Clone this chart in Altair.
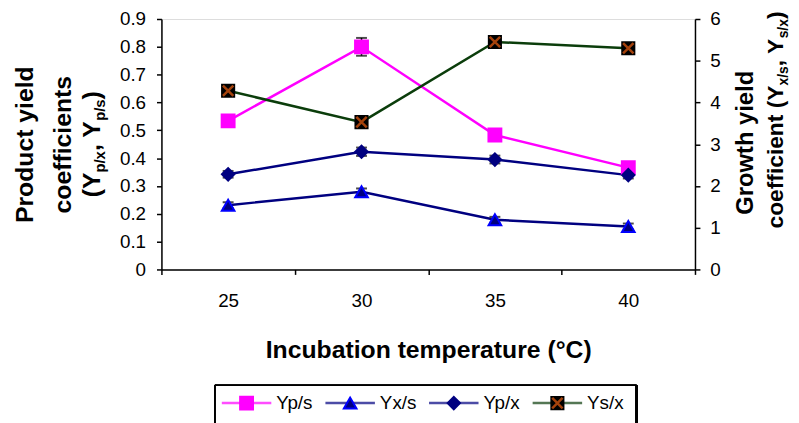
import altair as alt
import pandas as pd

# ---------------- data ----------------
temps = ["25", "30", "35", "40"]
series = ["Yp/s", "Yx/s", "Yp/x", "Ys/x"]

yps = [0.534, 0.800, 0.483, 0.366]
ypx = [0.342, 0.423, 0.395, 0.339]
yxs = [1.54, 1.86, 1.19, 1.03]
ysx = [4.28, 3.53, 5.45, 5.30]

yps_err = [0.006, 0.032, 0.008, 0.008]
ypx_err = [0.012, 0.015, 0.014, 0.012]
yxs_err = [0.07, 0.08, 0.07, 0.07]
ysx_err = [0.06, 0.06, 0.06, 0.06]

left_ticks = [0, 0.1, 0.2, 0.3, 0.4, 0.5, 0.6, 0.7, 0.8, 0.9]
right_ticks = [0, 1, 2, 3, 4, 5, 6]

# title pieces: (text, is_subscript)
left_title_lines = ["Product yield", "coefficients"]
left_title_sub = [("(Y", False), ("p/x", True), (", Y", False), ("p/s", True), (")", False)]
right_title_line = "Growth yield"
right_title_sub = [("coefficient (Y", False), ("x/s", True), (", Y", False), ("s/x", True), (")", False)]

line_colors = ["#FF00FF", "#000080", "#000080", "#0B3D0B"]
marker_shapes = ["square", "triangle-up", "diamond", "square"]
marker_fills = ["#FF00FF", "#000080", "#000080", "#000000"]
marker_strokes = ["#FF00FF", "#0000FF", "#000080", "#000000"]
marker_sizes = [170, 150, 120, 170]
X_PATH = "M-1,-1L1,1M1,-1L-1,1"
X_COLOR = "#A4420C"
FONT = "Liberation Sans"
LABEL_FS = 19
TITLE_FS = 25

# Arial Bold advance widths (1/1000 em)
AB = {
    "(": 333, ")": 333, "Y": 667, "p": 611, "/": 278, "x": 556, "s": 556, ",": 278,
    " ": 278, "c": 556, "o": 611, "e": 556, "f": 333, "i": 278, "n": 611, "t": 333,
}


def tw(s, fs):
    return sum(AB.get(ch, 556) for ch in s) / 1000.0 * fs


def rows(name, vals, errs):
    return [
        {"temp": t, "series": name, "value": v, "lo": v - e, "hi": v + e}
        for t, v, e in zip(temps, vals, errs)
    ]


df_left = pd.DataFrame(rows("Yp/s", yps, yps_err) + rows("Yp/x", ypx, ypx_err))
df_right = pd.DataFrame(rows("Yx/s", yxs, yxs_err) + rows("Ys/x", ysx, ysx_err))
df_leg = pd.DataFrame({"series": series})

# ---------------- scales ----------------
color_scale = alt.Scale(domain=series, range=line_colors)
shape_scale = alt.Scale(domain=series, range=marker_shapes)
fill_scale = alt.Scale(domain=series, range=marker_fills)
stroke_scale = alt.Scale(domain=series, range=marker_strokes)
size_scale = alt.Scale(domain=series, range=marker_sizes)

axis_common = dict(
    grid=False,
    domainColor="black",
    domainWidth=1.5,
    tickColor="black",
    tickWidth=1.5,
    tickSize=5,
    labelFontSize=LABEL_FS,
    labelColor="black",
    labelFont=FONT,
)

x_axis = alt.Axis(
    title="Incubation temperature (°C)",
    labelAngle=0,
    tickBand="extent",
    labelPadding=17,
    titleFontSize=TITLE_FS,
    titleFontWeight="bold",
    titleColor="black",
    titleFont=FONT,
    titleBaseline="middle",
    titleY=81,
    **axis_common,
)
x_enc = alt.X(
    "temp:O",
    scale=alt.Scale(type="band", domain=temps, paddingInner=0, paddingOuter=0),
    axis=x_axis,
)

left_axis = alt.Axis(orient="left", title=None, values=left_ticks, format="~g", labelPadding=11, **axis_common)
right_axis = alt.Axis(orient="right", title=None, values=right_ticks, format="~g", labelPadding=10, **axis_common)


def group(df, yscale, yaxis, with_x):
    base = alt.Chart(df)
    y = alt.Y("value:Q", scale=yscale, axis=yaxis)
    color = alt.Color("series:N", scale=color_scale, legend=None)
    lines = base.mark_line(strokeWidth=2.5).encode(
        x=x_enc, y=y, color=color, detail="series:N"
    )
    err = base.mark_rule(color="black", strokeWidth=1.5).encode(
        x=x_enc, y=alt.Y("lo:Q", scale=yscale, axis=yaxis), y2="hi:Q"
    )
    cap_lo = base.mark_tick(color="black", thickness=2, size=11, orient="horizontal").encode(
        x=x_enc, y=alt.Y("lo:Q", scale=yscale, axis=yaxis)
    )
    cap_hi = base.mark_tick(color="black", thickness=2, size=11, orient="horizontal").encode(
        x=x_enc, y=alt.Y("hi:Q", scale=yscale, axis=yaxis)
    )
    pts = base.mark_point(filled=True, opacity=1, strokeWidth=2, strokeOpacity=1).encode(
        x=x_enc,
        y=y,
        shape=alt.Shape("series:N", scale=shape_scale, legend=None),
        fill=alt.Fill("series:N", scale=fill_scale, legend=None),
        stroke=alt.Stroke("series:N", scale=stroke_scale, legend=None),
        size=alt.Size("series:N", scale=size_scale, legend=None),
    )
    layers = [lines, err, cap_lo, cap_hi, pts]
    if with_x:
        xm = base.transform_filter(alt.datum.series == "Ys/x").mark_point(
            shape=X_PATH, filled=False, stroke=X_COLOR, strokeWidth=2.5, size=110, opacity=1
        ).encode(x=x_enc, y=y)
        layers.append(xm)
    return alt.layer(*layers)


left = group(df_left, alt.Scale(domain=[0, 0.9], nice=False, zero=True), left_axis, False)
right = group(df_right, alt.Scale(domain=[0, 6], nice=False, zero=True), right_axis, True)
main = alt.layer(left, right).resolve_scale(y="independent")

# ---------------- legend (drawn) ----------------
LEG_Y = 388
leg_x = alt.X(
    "series:N",
    scale=alt.Scale(type="point", domain=series, range=[86, 400], padding=0),
    axis=None,
)
leg = alt.Chart(df_leg)
leg_lines = leg.mark_tick(orient="horizontal", size=50, thickness=2.5).encode(
    x=leg_x, y=alt.value(LEG_Y), color=alt.Color("series:N", scale=color_scale, legend=None)
)
leg_pts = leg.mark_point(filled=True, opacity=1, strokeWidth=2).encode(
    x=leg_x,
    y=alt.value(LEG_Y),
    shape=alt.Shape("series:N", scale=shape_scale, legend=None),
    fill=alt.Fill("series:N", scale=fill_scale, legend=None),
    stroke=alt.Stroke("series:N", scale=stroke_scale, legend=None),
    size=alt.Size("series:N", scale=size_scale, legend=None),
)
leg_xm = leg.transform_filter(alt.datum.series == "Ys/x").mark_point(
    shape=X_PATH, filled=False, stroke=X_COLOR, strokeWidth=2.5, size=110, opacity=1
).encode(x=leg_x, y=alt.value(LEG_Y))
leg_text = leg.mark_text(align="left", baseline="middle", dx=30, fontSize=LABEL_FS, font=FONT, color="black").encode(
    x=leg_x, y=alt.value(LEG_Y), text="series:N"
)
box_left = leg.mark_rule(color="black", strokeWidth=1.5).encode(
    x=alt.value(54), y=alt.value(370), y2=alt.value(440)
)
box_top = leg.mark_rule(color="black", strokeWidth=1.5).encode(
    x=alt.value(54), x2=alt.value(480), y=alt.value(370)
)
box_right = leg.mark_rule(color="black", strokeWidth=2.5).encode(
    x=alt.value(480), y=alt.value(370), y2=alt.value(440)
)

# ---------------- rotated axis titles with subscripts ----------------
one = alt.Data(values=[{"k": 0}])


def rtext(text, x, y, fs, align="center"):
    return alt.Chart(one).mark_text(
        text=text, angle=270, align=align, baseline="alphabetic",
        font=FONT, fontWeight="bold", fontSize=fs, color="black",
    ).encode(x=alt.value(x), y=alt.value(y))


def rich_line(pieces, x_main, x_sub, center_y, fs_main, fs_sub):
    sizes = [fs_sub if sub else fs_main for _, sub in pieces]
    total = sum(tw(t, s) for (t, _), s in zip(pieces, sizes))
    y = center_y + total / 2.0
    out = []
    for (t, sub), s in zip(pieces, sizes):
        out.append(rtext(t, x_sub if sub else x_main, y, s, align="left"))
        y -= tw(t, s)
    return out


title_layers = [
    rtext(left_title_lines[0], -130, 127, TITLE_FS),
    rtext(left_title_lines[1], -91, 127, TITLE_FS),
]
title_layers += rich_line(left_title_sub, -62, -57, 126.5, TITLE_FS, 15)
title_layers.append(rtext(right_title_line, 598, 125, 24))
title_layers += rich_line(right_title_sub, 628, 633, 102, 23, 14)

legend = alt.layer(box_left, box_top, box_right, leg_lines, leg_pts, leg_xm, leg_text, *title_layers)

chart = (
    alt.layer(main, legend)
    .resolve_scale(x="independent")
    .properties(
        width=539,
        height=253,
        autosize=alt.AutoSizeParams(type="none"),
        padding={"left": 155, "top": 9, "right": 97, "bottom": 153},
    )
    .configure_view(stroke=None)
    .configure(font=FONT)
)

chart.save("out.html", embed_options={"renderer": "svg", "actions": False})
